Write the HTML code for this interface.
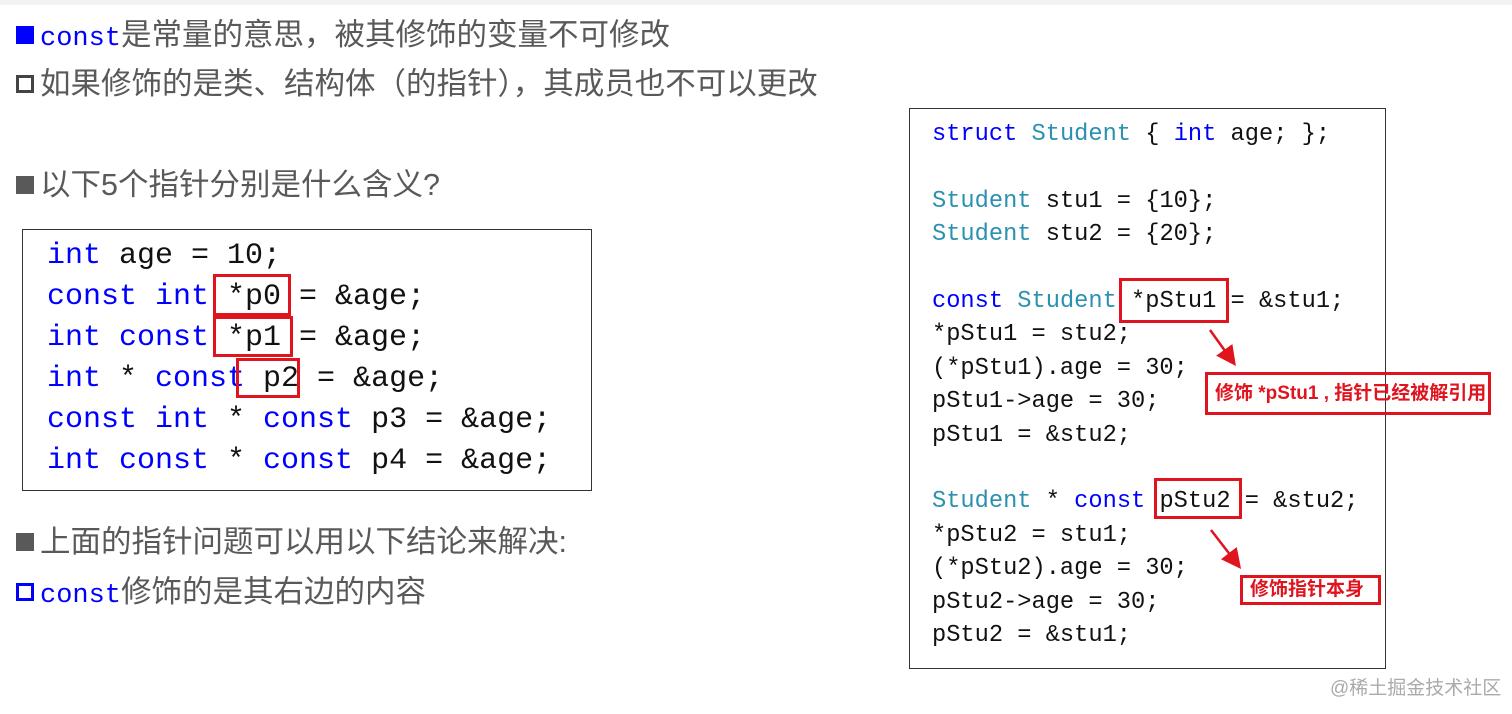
<!DOCTYPE html>
<html><head><meta charset="utf-8"><style>
body{margin:0;width:1512px;height:714px;background:#fff;position:relative;overflow:hidden;font-family:"Liberation Sans","Noto Sans CJK SC",sans-serif}
.a{position:absolute;white-space:pre}
.h{font-size:30.5px;color:#595959;line-height:36px}
.k{color:#0000ff}.t{color:#2b91af}
.cm{font-family:"Liberation Mono",monospace;font-size:27px;color:#0000ff}
.cl{font-family:"Liberation Mono",monospace;font-size:30px;line-height:41px;color:#111}
.cr{font-family:"Liberation Mono",monospace;font-size:23.7px;line-height:33.4px;color:#111}
.box{position:absolute;border:1.5px solid #333}
.rb{position:absolute;border:3px solid #e0141e;box-sizing:border-box}
.lab{position:absolute;border:3px solid #e0141e;box-sizing:border-box;color:#e0141e;font-weight:bold;font-size:19px;padding-left:7px;white-space:nowrap}
.sq{display:inline-block;width:18px;height:18px;margin-right:6px;vertical-align:1px;box-sizing:border-box}
</style></head><body>
<div style="position:absolute;left:0;top:0;width:1512px;height:5px;background:#f2f2f2"></div>
<div class="a h" style="left:16px;top:17px"><span class="sq" style="background:#0000ff"></span><span class="cm">const</span>是常量的意思，被其修饰的变量不可修改</div>
<div class="a h" style="left:16px;top:66px"><span class="sq" style="border:3.5px solid #444"></span>如果修饰的是类、结构体（的指针），其成员也不可以更改</div>
<div class="a h" style="left:16px;top:167px"><span class="sq" style="background:#595959"></span>以下5个指针分别是什么含义?</div>
<div class="a h" style="left:16px;top:524px"><span class="sq" style="background:#595959"></span>上面的指针问题可以用以下结论来解决:</div>
<div class="a h" style="left:16px;top:574px"><span class="sq" style="border:3.5px solid #0000ff"></span><span class="cm">const</span>修饰的是其右边的内容</div>

<div class="box" style="left:22px;top:229px;width:568px;height:260px"></div>
<div class="a cl" style="left:47px;top:236px"><span class="k">int</span> age = 10;
<span class="k">const int</span> *p0 = &amp;age;
<span class="k">int const</span> *p1 = &amp;age;
<span class="k">int</span> * <span class="k">const</span> p2 = &amp;age;
<span class="k">const int</span> * <span class="k">const</span> p3 = &amp;age;
<span class="k">int const</span> * <span class="k">const</span> p4 = &amp;age;</div>
<div class="rb" style="left:213px;top:274px;width:78px;height:42px"></div>
<div class="rb" style="left:213px;top:316px;width:80px;height:41px"></div>
<div class="rb" style="left:236px;top:358px;width:64px;height:40px"></div>

<div class="box" style="left:909px;top:108px;width:475px;height:559px"></div>
<div class="a cr" style="left:932px;top:118px"><span class="k">struct</span> <span class="t">Student</span> { <span class="k">int</span> age; };

<span class="t">Student</span> stu1 = {10};
<span class="t">Student</span> stu2 = {20};

<span class="k">const</span> <span class="t">Student</span> *pStu1 = &amp;stu1;
*pStu1 = stu2;
(*pStu1).age = 30;
pStu1-&gt;age = 30;
pStu1 = &amp;stu2;

<span class="t">Student</span> * <span class="k">const</span> pStu2 = &amp;stu2;
*pStu2 = stu1;
(*pStu2).age = 30;
pStu2-&gt;age = 30;
pStu2 = &amp;stu1;</div>
<div class="rb" style="left:1119px;top:278px;width:110px;height:45px"></div>
<div class="rb" style="left:1154px;top:478px;width:88px;height:41px"></div>
<div class="lab" style="left:1205px;top:372px;width:286px;height:43px;line-height:37px">修饰 *pStu1 , 指针已经被解引用</div>
<div class="lab" style="left:1240px;top:575px;width:141px;height:30px;line-height:24px">修饰指针本身</div>
<svg class="a" style="left:0;top:0" width="1512" height="714">
<defs><marker id="m" markerWidth="8" markerHeight="8" refX="6" refY="4" orient="auto"><path d="M0,0 L8,4 L0,8 z" fill="#e0141e"/></marker></defs>
<line x1="1210" y1="330" x2="1233" y2="362" stroke="#e0141e" stroke-width="2.5" marker-end="url(#m)"/>
<line x1="1211" y1="530" x2="1238" y2="565" stroke="#e0141e" stroke-width="2.5" marker-end="url(#m)"/>
</svg>
<div class="a" style="left:1330px;top:673px;font-size:19px;color:#aaa">@稀土掘金技术社区</div>
</body></html>
